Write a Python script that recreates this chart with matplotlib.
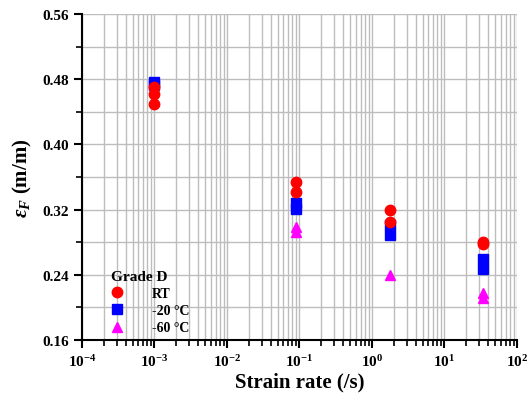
import matplotlib
matplotlib.use("Agg")
from matplotlib import pyplot as plt
from matplotlib.ticker import FixedLocator, MultipleLocator, NullFormatter, FormatStrFormatter, LogFormatterSciNotation

plt.rcParams['font.family'] = ['Liberation Serif', 'DejaVu Serif']
plt.rcParams['font.weight'] = 'bold'
plt.rcParams['mathtext.fontset'] = 'custom'
plt.rcParams['mathtext.rm'] = 'Liberation Serif:bold'
plt.rcParams['mathtext.it'] = 'Liberation Serif:bold:italic'
plt.rcParams['mathtext.bf'] = 'Liberation Serif:bold'

# 应变率 (/s) 与断裂应变
x_rt = [1e-3, 1e-3, 1e-3, 0.09, 0.09, 1.8, 1.8, 34, 34]
y_rt = [0.471, 0.462, 0.449, 0.354, 0.342, 0.319, 0.305, 0.280, 0.278]

x_m20 = [1e-3, 1e-3, 0.09, 0.09, 1.8, 1.8, 34, 34]
y_m20 = [0.476, 0.473, 0.328, 0.321, 0.301, 0.289, 0.259, 0.247]

x_m60 = [0.09, 0.09, 1.8, 34, 34]
y_m60 = [0.299, 0.293, 0.240, 0.218, 0.211]

labels = ["RT", "-20 \u00b0C", "-60 \u00b0C"]
x_ticks = [1e-4, 1e-3, 1e-2, 1e-1, 1e0, 1e1, 1e2]

fig = plt.figure(figsize=(5.27, 4.02), dpi=100)
ax = fig.add_axes([0.1556, 0.1517, 0.8254, 0.811])

ax.plot(x_rt, y_rt, 'o', color='red', markersize=7.5, label=labels[0], zorder=5)
ax.plot(x_m20, y_m20, 's', color='blue', markersize=7.5, label=labels[1], zorder=4)
ax.plot(x_m60, y_m60, '^', color='magenta', markersize=7.5, label=labels[2], zorder=3)

ax.set_xscale('log')
ax.set_xlim(1e-4, 1e2)
ax.set_ylim(0.16, 0.56)
# 对数刻度，只保留范围内的刻度
minor = [m * t for t in x_ticks[:-1] for m in range(2, 10)]
ax.xaxis.set_major_locator(FixedLocator(x_ticks))
ax.xaxis.set_major_formatter(LogFormatterSciNotation())
ax.xaxis.set_minor_locator(FixedLocator(minor))
ax.xaxis.set_minor_formatter(NullFormatter())
ax.yaxis.set_major_locator(MultipleLocator(0.08))
ax.yaxis.set_minor_locator(MultipleLocator(0.04))
ax.yaxis.set_major_formatter(FormatStrFormatter('%.2f'))

ax.grid(which='both', color='#bdbdbd', linewidth=1, zorder=0)
ax.set_axisbelow(True)

for s in ['top', 'right']:
    ax.spines[s].set_visible(False)
for s in ['left', 'bottom']:
    ax.spines[s].set_linewidth(1.5)

ax.tick_params(which='major', direction='out', length=6, width=1.5, labelsize=11)
ax.tick_params(which='minor', direction='out', length=4, width=1.2)

ax.set_xlabel("Strain rate (/s)", fontsize=15, fontweight='bold', labelpad=2)
ax.set_ylabel(r"$\varepsilon_F$ (m/m)", fontsize=15, fontweight='bold', labelpad=6)

leg = ax.legend(loc='lower left', frameon=False, title="Grade D",
                fontsize=10, handlelength=0.8, handletextpad=2.15,
                labelspacing=0.3, borderaxespad=0, borderpad=0.4,
                bbox_to_anchor=(0.054, 0.0))
leg.get_title().set_fontweight('bold')
leg.get_title().set_fontsize(11)
leg._legend_box.align = "left"

fig.savefig("out.png", dpi=100)
